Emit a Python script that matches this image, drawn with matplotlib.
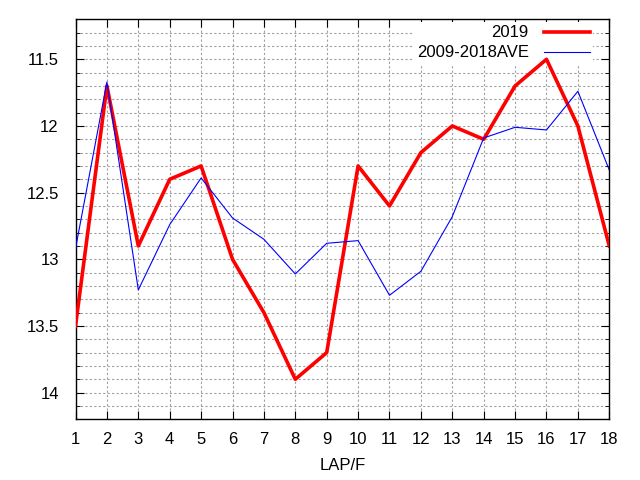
import matplotlib
matplotlib.use("Agg")
import matplotlib.pyplot as plt
from matplotlib.ticker import MultipleLocator

laps = list(range(1, 19))
y2019 = [13.5, 11.7, 12.9, 12.4, 12.3, 13.0, 13.4, 13.9, 13.7,
         12.3, 12.6, 12.2, 12.0, 12.1, 11.7, 11.5, 12.0, 12.9]
yave = [12.92, 11.67, 13.23, 12.74, 12.39, 12.69, 12.85, 13.11, 12.88,
        12.86, 13.27, 13.09, 12.68, 12.09, 12.01, 12.03, 11.74, 12.33]

plt.rcParams['font.family'] = ['Liberation Sans', 'DejaVu Sans']

fig = plt.figure(figsize=(6.4, 4.8), dpi=100)
ax = fig.add_axes([0.118, 0.1265, 0.834, 0.8333])

ax.plot(laps, y2019, color='#ff0000', linewidth=2.6, label='2019', zorder=3)
ax.plot(laps, yave, color='#0000ff', linewidth=0.8, label='2009-2018AVE', zorder=3)

ax.set_xlim(1, 18)
ax.set_ylim(14.2, 11.2)
ax.xaxis.set_major_locator(MultipleLocator(1))
ax.yaxis.set_minor_locator(MultipleLocator(0.1))
ax.set_yticks([11.5, 12, 12.5, 13, 13.5, 14])
ax.set_yticklabels(['11.5', '12', '12.5', '13', '13.5', '14'])

ax.grid(which='both', color='#a0a0a0', linestyle=(0, (2, 2)), linewidth=0.8)
ax.tick_params(which='both', direction='in', top=True, right=True, labelsize=12, colors='black')
ax.tick_params(which='major', length=6)
ax.tick_params(axis='y', which='major', pad=12)
ax.tick_params(axis='x', which='major', pad=9)
ax.tick_params(which='minor', length=3)
for s in ax.spines.values():
    s.set_linewidth(1)

ax.set_xlabel('LAP/F', fontsize=12, labelpad=8)

# legend box: white, no border, text on the left of the line sample
leg = ax.legend(loc='upper right', bbox_to_anchor=(593 / 640, 1 - 22 / 480),
                bbox_transform=fig.transFigure, borderaxespad=0, borderpad=0.2,
                frameon=True, facecolor='white', edgecolor='none', framealpha=1,
                fancybox=False, markerfirst=False, fontsize=12,
                handlelength=2.75, labelspacing=0.3, handletextpad=0.9)
leg.set_zorder(2.5)
for t in leg.get_texts():
    t.set_ha('right')

fig.savefig('out.png', dpi=100)
